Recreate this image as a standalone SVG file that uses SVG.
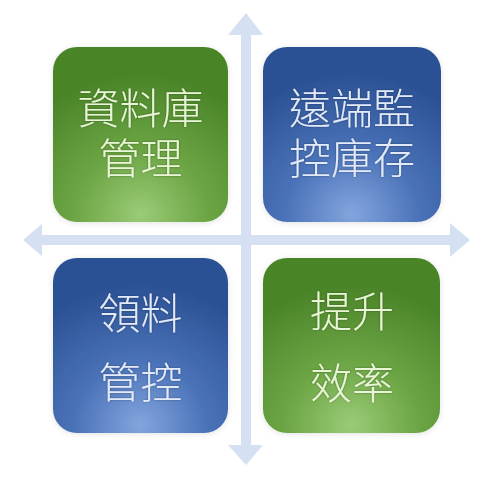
<svg xmlns="http://www.w3.org/2000/svg" width="488" height="478" viewBox="0 0 488 478">
<defs>
<radialGradient id="gGreen" cx="50%" cy="100%" r="85%" fx="50%" fy="95%">
<stop offset="0" stop-color="#9acb77"/>
<stop offset="0.45" stop-color="#6ca544"/>
<stop offset="1" stop-color="#4a8428"/>
</radialGradient>
<radialGradient id="gBlue" cx="50%" cy="100%" r="85%" fx="50%" fy="95%">
<stop offset="0" stop-color="#83a5de"/>
<stop offset="0.45" stop-color="#4a72b8"/>
<stop offset="1" stop-color="#2b5194"/>
</radialGradient>
<filter id="glow" x="-10%" y="-10%" width="120%" height="120%">
<feGaussianBlur in="SourceAlpha" stdDeviation="3"/>
<feOffset dx="0" dy="1"/>
<feComponentTransfer><feFuncA type="linear" slope="0.12"/></feComponentTransfer>
<feMerge><feMergeNode/><feMergeNode in="SourceGraphic"/></feMerge>
</filter>
<filter id="tglow" x="-10%" y="-10%" width="120%" height="120%">
<feGaussianBlur in="SourceAlpha" stdDeviation="0.8"/>
<feComponentTransfer><feFuncA type="linear" slope="0.35"/></feComponentTransfer>
<feMerge><feMergeNode/><feMergeNode in="SourceGraphic"/></feMerge>
</filter>
</defs>
<style>
.box{filter:url(#glow)}
.t{font-family:"Noto Sans CJK TC","Noto Sans CJK SC",sans-serif;font-size:42px;font-weight:300;text-anchor:middle;filter:url(#tglow)}
.tg{fill:#e8f6d6}
.tb{fill:#e2eaf8}
.arr{fill:#d5e0f2}
</style>
<rect width="488" height="478" fill="#ffffff"/>
<g id="connectors">
<polygon class="arr" points="246,13 263,35 251,35 251,445 263,445 246,465 228,445 241,445 241,35 228,35"/>
<polygon class="arr" points="23,240 42,224 42,235 450,235 450,223 470,240 450,257 450,245 42,245 42,256"/>
</g>
<g id="node-db">
<rect class="box" x="53" y="47" width="175" height="175" rx="24" fill="url(#gGreen)"/>
<text class="t tg" x="140.5" y="124">資料庫<tspan x="140.5" dy="50">管理</tspan></text>
</g>
<g id="node-remote">
<rect class="box" x="263" y="47" width="178" height="175" rx="24" fill="url(#gBlue)"/>
<text class="t tb" x="352" y="124">遠端監<tspan x="352" dy="50">控庫存</tspan></text>
</g>
<g id="node-material">
<rect class="box" x="53" y="258" width="175" height="175" rx="24" fill="url(#gBlue)"/>
<text class="t tb" x="140.5" y="329">領料<tspan x="140.5" dy="69">管控</tspan></text>
</g>
<g id="node-efficiency">
<rect class="box" x="263" y="258" width="177" height="175" rx="24" fill="url(#gGreen)"/>
<text class="t tg" x="352" y="327">提升<tspan x="352" dy="72">效率</tspan></text>
</g>
</svg>
